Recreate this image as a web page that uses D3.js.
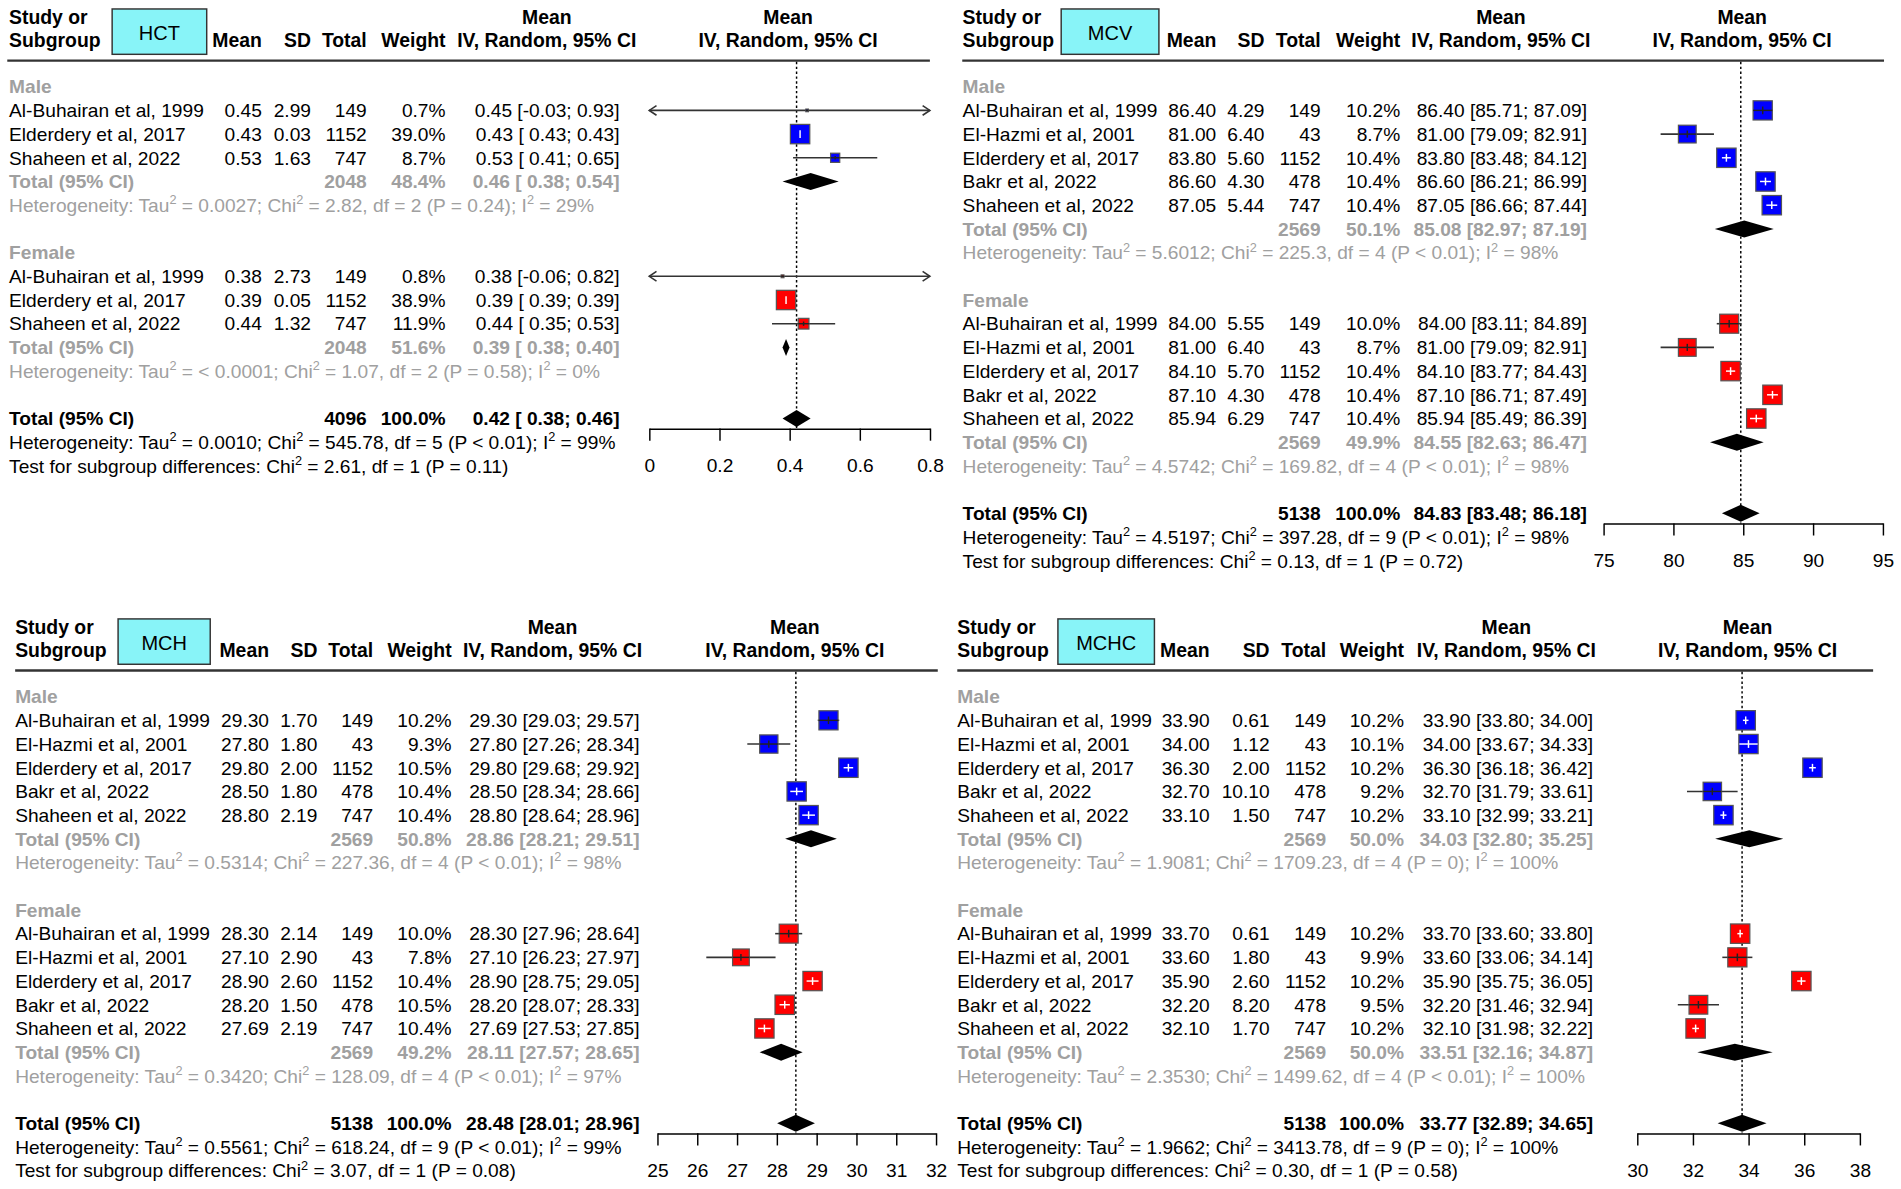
<!DOCTYPE html>
<html>
<head>
<meta charset="utf-8">
<title>Forest plots HCT MCV MCH MCHC</title>
<script src="https://d3js.org/d3.v7.min.js"></script>
<style>
  body { margin: 0; background: #fff; }
  text { font-family: 'Liberation Sans', Arial, sans-serif; white-space: pre; }
</style>
</head>
<body>
<div id="chart"></div>
<script>
// ---- data ----
// study rows: [mean, sd, total, weight %, lower, upper]
const names3 = ["Al-Buhairan et al, 1999", "Elderdery et al, 2017", "Shaheen et al, 2022"];
const names5 = ["Al-Buhairan et al, 1999", "El-Hazmi et al, 2001", "Elderdery et al, 2017", "Bakr et al, 2022", "Shaheen et al, 2022"];

const hctMale = [[0.45, 2.99, 149, 0.7, -0.03, 0.93], [0.43, 0.03, 1152, 39.0, 0.43, 0.43], [0.53, 1.63, 747, 8.7, 0.41, 0.65]];
const hctFemale = [[0.38, 2.73, 149, 0.8, -0.06, 0.82], [0.39, 0.05, 1152, 38.9, 0.39, 0.39], [0.44, 1.32, 747, 11.9, 0.35, 0.53]];
// totals: [n, weight %, mean, lower, upper]
const hctMaleTotal = [2048, 48.4, 0.46, 0.38, 0.54];
const hctFemaleTotal = [2048, 51.6, 0.39, 0.38, 0.40];
const hctOverall = [4096, 100.0, 0.42, 0.38, 0.46];
// heterogeneity: [tau2, chi2, df, p, I2]
const hctMaleHet = ["0.0027", "2.82", 2, "P = 0.24", "29%"];
const hctFemaleHet = ["< 0.0001", "1.07", 2, "P = 0.58", "0%"];
const hctOverallHet = ["0.0010", "545.78", 5, "P < 0.01", "99%"];
const hctTest = ["2.61", 1, "P = 0.11"];
const hctTicks = [0, 0.2, 0.4, 0.6, 0.8];

const mcvMale = [[86.40, 4.29, 149, 10.2, 85.71, 87.09], [81.00, 6.40, 43, 8.7, 79.09, 82.91], [83.80, 5.60, 1152, 10.4, 83.48, 84.12], [86.60, 4.30, 478, 10.4, 86.21, 86.99], [87.05, 5.44, 747, 10.4, 86.66, 87.44]];
const mcvFemale = [[84.00, 5.55, 149, 10.0, 83.11, 84.89], [81.00, 6.40, 43, 8.7, 79.09, 82.91], [84.10, 5.70, 1152, 10.4, 83.77, 84.43], [87.10, 4.30, 478, 10.4, 86.71, 87.49], [85.94, 6.29, 747, 10.4, 85.49, 86.39]];
const mcvMaleTotal = [2569, 50.1, 85.08, 82.97, 87.19];
const mcvFemaleTotal = [2569, 49.9, 84.55, 82.63, 86.47];
const mcvOverall = [5138, 100.0, 84.83, 83.48, 86.18];
const mcvMaleHet = ["5.6012", "225.3", 4, "P < 0.01", "98%"];
const mcvFemaleHet = ["4.5742", "169.82", 4, "P < 0.01", "98%"];
const mcvOverallHet = ["4.5197", "397.28", 9, "P < 0.01", "98%"];
const mcvTest = ["0.13", 1, "P = 0.72"];
const mcvTicks = [75, 80, 85, 90, 95];

const mchMale = [[29.30, 1.70, 149, 10.2, 29.03, 29.57], [27.80, 1.80, 43, 9.3, 27.26, 28.34], [29.80, 2.00, 1152, 10.5, 29.68, 29.92], [28.50, 1.80, 478, 10.4, 28.34, 28.66], [28.80, 2.19, 747, 10.4, 28.64, 28.96]];
const mchFemale = [[28.30, 2.14, 149, 10.0, 27.96, 28.64], [27.10, 2.90, 43, 7.8, 26.23, 27.97], [28.90, 2.60, 1152, 10.4, 28.75, 29.05], [28.20, 1.50, 478, 10.5, 28.07, 28.33], [27.69, 2.19, 747, 10.4, 27.53, 27.85]];
const mchMaleTotal = [2569, 50.8, 28.86, 28.21, 29.51];
const mchFemaleTotal = [2569, 49.2, 28.11, 27.57, 28.65];
const mchOverall = [5138, 100.0, 28.48, 28.01, 28.96];
const mchMaleHet = ["0.5314", "227.36", 4, "P < 0.01", "98%"];
const mchFemaleHet = ["0.3420", "128.09", 4, "P < 0.01", "97%"];
const mchOverallHet = ["0.5561", "618.24", 9, "P < 0.01", "99%"];
const mchTest = ["3.07", 1, "P = 0.08"];
const mchTicks = [25, 26, 27, 28, 29, 30, 31, 32];

const mchcMale = [[33.90, 0.61, 149, 10.2, 33.80, 34.00], [34.00, 1.12, 43, 10.1, 33.67, 34.33], [36.30, 2.00, 1152, 10.2, 36.18, 36.42], [32.70, 10.10, 478, 9.2, 31.79, 33.61], [33.10, 1.50, 747, 10.2, 32.99, 33.21]];
const mchcFemale = [[33.70, 0.61, 149, 10.2, 33.60, 33.80], [33.60, 1.80, 43, 9.9, 33.06, 34.14], [35.90, 2.60, 1152, 10.2, 35.75, 36.05], [32.20, 8.20, 478, 9.5, 31.46, 32.94], [32.10, 1.70, 747, 10.2, 31.98, 32.22]];
const mchcMaleTotal = [2569, 50.0, 34.03, 32.80, 35.25];
const mchcFemaleTotal = [2569, 50.0, 33.51, 32.16, 34.87];
const mchcOverall = [5138, 100.0, 33.77, 32.89, 34.65];
const mchcMaleHet = ["1.9081", "1709.23", 4, "P = 0", "100%"];
const mchcFemaleHet = ["2.3530", "1499.62", 4, "P < 0.01", "100%"];
const mchcOverallHet = ["1.9662", "3413.78", 9, "P = 0", "100%"];
const mchcTest = ["0.30", 1, "P = 0.58"];
const mchcTicks = [30, 32, 34, 36, 38];

// ---- layout ----
const W = 1568, H = 1568 * 1189 / 1901;
const FS = 15.8, STEP = 19.55;
const GRAY = "#a0a0a0";

const panels = [
  {name: "HCT", top: 0, names: names3, male: hctMale, female: hctFemale, mTot: hctMaleTotal, fTot: hctFemaleTotal,
   all: hctOverall, mHet: hctMaleHet, fHet: hctFemaleHet, aHet: hctOverallHet, test: hctTest, ticks: hctTicks,
   study: 7.5, box: [92.5, 170.5], mean: 216, sd: 256.5, total: 302.5, weight: 367.5, ci: 511,
   ciHdr: 451, plotHdr: 650, hline: [6, 767], axis: [535.5, 767], pad: true},
  {name: "MCV", top: 0, names: names5, male: mcvMale, female: mcvFemale, mTot: mcvMaleTotal, fTot: mcvFemaleTotal,
   all: mcvOverall, mHet: mcvMaleHet, fHet: mcvFemaleHet, aHet: mcvOverallHet, test: mcvTest, ticks: mcvTicks,
   study: 794, box: [875.3, 955.9], mean: 1003.2, sd: 1043, total: 1089.3, weight: 1155, ci: 1309,
   ciHdr: 1238, plotHdr: 1437, hline: [793.7, 1554], axis: [1322.6, 1553], pad: false},
  {name: "MCH", top: 503.1, names: names5, male: mchMale, female: mchFemale, mTot: mchMaleTotal, fTot: mchFemaleTotal,
   all: mchOverall, mHet: mchMaleHet, fHet: mchFemaleHet, aHet: mchOverallHet, test: mchTest, ticks: mchTicks,
   study: 12.5, box: [97.4, 173.4], mean: 221.9, sd: 261.8, total: 307.8, weight: 372.5, ci: 527.5,
   ciHdr: 455.7, plotHdr: 655.6, hline: [12.5, 773.5], axis: [542.2, 772], pad: false},
  {name: "MCHC", top: 503.1, names: names5, male: mchcMale, female: mchcFemale, mTot: mchcMaleTotal, fTot: mchcFemaleTotal,
   all: mchcOverall, mHet: mchcMaleHet, fHet: mchcFemaleHet, aHet: mchcOverallHet, test: mchcTest, ticks: mchcTicks,
   study: 789.6, box: [872.6, 952.2], mean: 997.7, sd: 1047.2, total: 1093.8, weight: 1158, ci: 1314,
   ciHdr: 1242.5, plotHdr: 1441.4, hline: [789.6, 1545], axis: [1350.4, 1534], pad: false}
];

const svg = d3.select("#chart").append("svg")
  .attr("width", 1901).attr("height", 1189)
  .attr("viewBox", `0 0 ${W} ${H}`);
svg.append("rect").attr("width", W).attr("height", H).attr("fill", "#fff");

function label(g, x, y, s, anchor, weight, color, size) {
  return g.append("text")
    .attr("x", x).attr("y", y)
    .attr("text-anchor", anchor || "start")
    .attr("font-weight", weight || "normal")
    .attr("fill", color || "#000")
    .attr("font-size", size || FS)
    .text(s);
}

// text with superscript "2" pieces
function supText(g, x, y, parts, color) {
  const t = g.append("text").attr("x", x).attr("y", y)
    .attr("font-size", FS).attr("fill", color);
  let up = false;
  parts.forEach(p => {
    if (p === "^2") {
      t.append("tspan").attr("dy", -6.5).attr("font-size", 10.5).text("2");
      up = true;
    } else {
      const s = t.append("tspan").text(p);
      if (up) { s.attr("dy", 6.5); up = false; }
    }
  });
  return t;
}

function hetParts(h) {
  return ["Heterogeneity: Tau", "^2", " = " + h[0] + "; Chi", "^2", " = " + h[1] + ", df = " + h[2] + " (" + h[3] + "); I", "^2", " = " + h[4]];
}

function ciStr(m, lo, hi, pad) {
  return m.toFixed(2) + " [" + (pad && lo >= 0 ? " " : "") + lo.toFixed(2) + "; " + hi.toFixed(2) + "]";
}

function drawPanel(p) {
  const g = svg.append("g");
  const top = p.top;
  const rowY = i => top + 71.5 + i * STEP;
  const base = i => rowY(i) + 5.6;
  const n = p.male.length;

  // header block
  label(g, p.study, top + 19.5, "Study or", "start", "bold", "#000", 16);
  label(g, p.study, top + 38.5, "Subgroup", "start", "bold", "#000", 16);
  g.append("rect")
    .attr("x", p.box[0]).attr("y", top + 7.4)
    .attr("width", p.box[1] - p.box[0]).attr("height", 37.4)
    .attr("fill", "#88f4f8").attr("stroke", "#333").attr("stroke-width", 1.2);
  label(g, (p.box[0] + p.box[1]) / 2, top + 33, p.name, "middle", "normal", "#000", 16.5);
  label(g, p.mean, top + 38.5, "Mean", "end", "bold", "#000", 16);
  label(g, p.sd, top + 38.5, "SD", "end", "bold", "#000", 16);
  label(g, p.total, top + 38.5, "Total", "end", "bold", "#000", 16);
  label(g, p.weight, top + 38.5, "Weight", "end", "bold", "#000", 16);
  [p.ciHdr, p.plotHdr].forEach(cx => {
    label(g, cx, top + 19.5, "Mean", "middle", "bold", "#000", 16);
    label(g, cx, top + 38.5, "IV, Random, 95% CI", "middle", "bold", "#000", 16);
  });
  g.append("line")
    .attr("x1", p.hline[0]).attr("x2", p.hline[1])
    .attr("y1", top + 50).attr("y2", top + 50)
    .attr("stroke", "#333").attr("stroke-width", 2);

  // row lines
  const fLine = n + 4, allLine = 2 * n + 8;
  const groups = [
    {title: "Male", start: 0, rows: p.male, tot: p.mTot, het: p.mHet, fill: "#0000ff"},
    {title: "Female", start: fLine, rows: p.female, tot: p.fTot, het: p.fHet, fill: "#ff0000"}
  ];

  groups.forEach(gr => {
    label(g, p.study, base(gr.start), gr.title, "start", "bold", GRAY);
    gr.rows.forEach((r, i) => {
      const yb = base(gr.start + 1 + i);
      label(g, p.study, yb, p.names[i]);
      label(g, p.mean, yb, r[0].toFixed(2), "end");
      label(g, p.sd, yb, r[1].toFixed(2), "end");
      label(g, p.total, yb, r[2], "end");
      label(g, p.weight, yb, r[3].toFixed(1) + "%", "end");
      label(g, p.ci, yb, ciStr(r[0], r[4], r[5], p.pad), "end");
    });
    const tl = base(gr.start + n + 1);
    label(g, p.study, tl, "Total (95% CI)", "start", "bold", GRAY);
    label(g, p.total, tl, gr.tot[0], "end", "bold", GRAY);
    label(g, p.weight, tl, gr.tot[1].toFixed(1) + "%", "end", "bold", GRAY);
    label(g, p.ci, tl, ciStr(gr.tot[2], gr.tot[3], gr.tot[4], p.pad), "end", "bold", GRAY);
    supText(g, p.study, base(gr.start + n + 2), hetParts(gr.het), GRAY);
  });

  // overall
  const ab = base(allLine);
  label(g, p.study, ab, "Total (95% CI)", "start", "bold");
  label(g, p.total, ab, p.all[0], "end", "bold");
  label(g, p.weight, ab, p.all[1].toFixed(1) + "%", "end", "bold");
  label(g, p.ci, ab, ciStr(p.all[2], p.all[3], p.all[4], p.pad), "end", "bold");
  supText(g, p.study, base(allLine + 1), hetParts(p.aHet), "#000");
  supText(g, p.study, base(allLine + 2),
    ["Test for subgroup differences: Chi", "^2", " = " + p.test[0] + ", df = " + p.test[1] + " (" + p.test[2] + ")"], "#000");

  // forest part
  const dom = [p.ticks[0], p.ticks[p.ticks.length - 1]];
  const x = d3.scaleLinear().domain(dom).range(p.axis);
  const axisY = rowY(allLine) + 8.3;
  const maxW = d3.max(p.male.concat(p.female), r => r[3]);
  const maxSide = 16;

  g.append("line")
    .attr("x1", x(p.all[2])).attr("x2", x(p.all[2]))
    .attr("y1", top + 51).attr("y2", axisY)
    .attr("stroke", "#000").attr("stroke-width", 1.2)
    .attr("stroke-dasharray", "2,2");

  const marks = g.append("g");
  groups.forEach(gr => {
    gr.rows.forEach((r, i) => {
      const y = rowY(gr.start + 1 + i);
      const lo = Math.max(r[4], dom[0]), hi = Math.min(r[5], dom[1]);
      const xl = x(lo), xh = x(hi), xm = x(r[0]);
      marks.append("line").attr("x1", xl).attr("x2", xh).attr("y1", y).attr("y2", y)
        .attr("stroke", "#333").attr("stroke-width", 1.3);
      if (r[4] < dom[0]) {
        marks.append("path").attr("d", `M${xl + 6},${y - 4}L${xl},${y}L${xl + 6},${y + 4}`)
          .attr("fill", "none").attr("stroke", "#333").attr("stroke-width", 1.3);
      }
      if (r[5] > dom[1]) {
        marks.append("path").attr("d", `M${xh - 6},${y - 4}L${xh},${y}L${xh - 6},${y + 4}`)
          .attr("fill", "none").attr("stroke", "#333").attr("stroke-width", 1.3);
      }
      const s = maxSide * Math.sqrt(r[3] / maxW);
      marks.append("rect")
        .attr("x", xm - s / 2).attr("y", y - s / 2)
        .attr("width", s).attr("height", s)
        .attr("fill", gr.fill).attr("stroke", "#555").attr("stroke-width", 1);
      const inside = (xh - xl) < s * 0.97;
      const c = inside ? "#fff" : "#222";
      const x1 = inside ? xl : Math.max(xl, xm - s / 2), x2 = inside ? xh : Math.min(xh, xm + s / 2);
      marks.append("line").attr("x1", x1).attr("x2", x2).attr("y1", y).attr("y2", y)
        .attr("stroke", c).attr("stroke-width", 1.2);
      marks.append("line").attr("x1", xm).attr("x2", xm)
        .attr("y1", y - s * 0.2).attr("y2", y + s * 0.2)
        .attr("stroke", c).attr("stroke-width", 1.2);
    });
    const ty = rowY(gr.start + n + 1);
    marks.append("path")
      .attr("d", `M${x(gr.tot[3])},${ty}L${x(gr.tot[2])},${ty - 7}L${x(gr.tot[4])},${ty}L${x(gr.tot[2])},${ty + 7}Z`)
      .attr("fill", "#000");
  });
  const oy = rowY(allLine);
  marks.append("path")
    .attr("d", `M${x(p.all[3])},${oy}L${x(p.all[2])},${oy - 7}L${x(p.all[4])},${oy}L${x(p.all[2])},${oy + 7}Z`)
    .attr("fill", "#000");

  const ax = g.append("g")
    .attr("transform", `translate(0,${axisY})`)
    .call(d3.axisBottom(x).tickValues(p.ticks).tickSize(10).tickSizeOuter(0).tickPadding(15).tickFormat(d3.format("")));
  ax.attr("font-family", null).attr("font-size", FS);
  ax.selectAll("line, path").attr("stroke", "#000").attr("stroke-width", 1.2);
  ax.selectAll("text").attr("fill", "#000");
}

panels.forEach(drawPanel);
</script>
</body>
</html>
